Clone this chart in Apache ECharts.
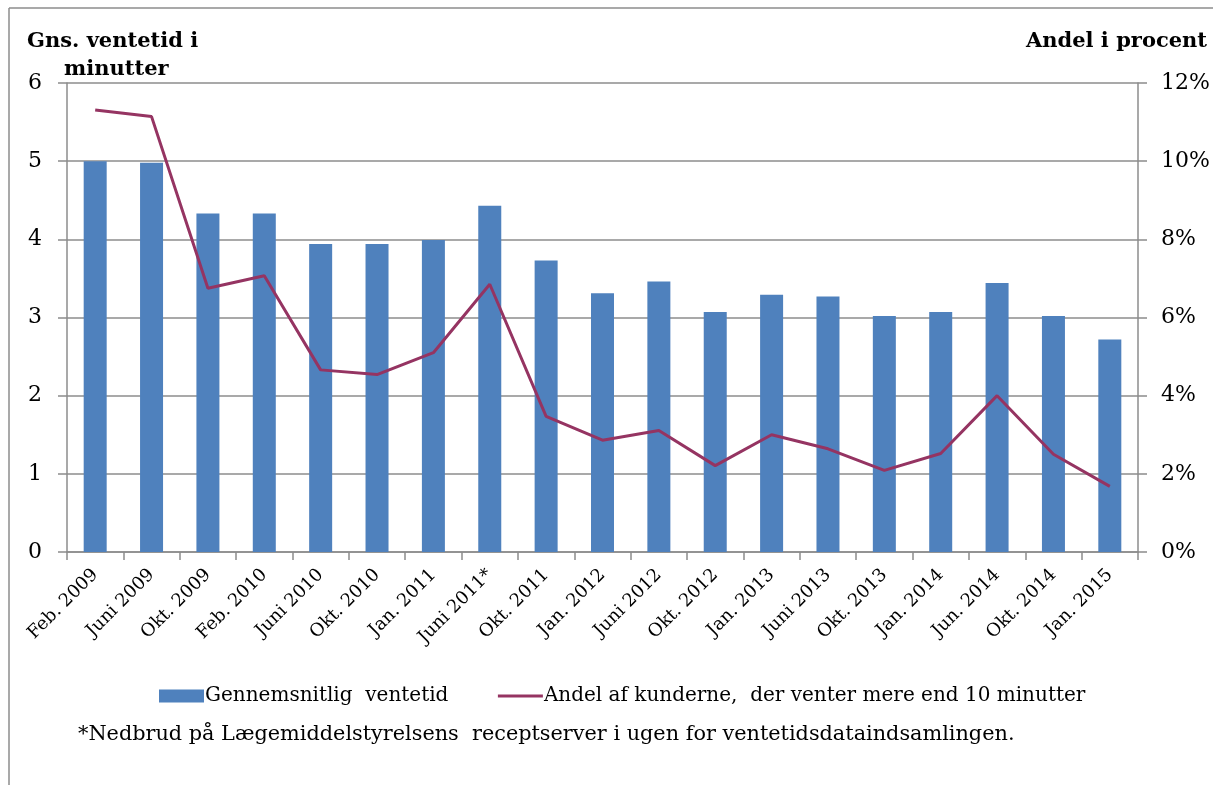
<!DOCTYPE html>
<html>
<head>
	<meta charset="utf-8">
	<title>Ventetid</title>
	<style>
		html, body { margin: 0; padding: 0; background: #fff; }
		#chart1 { width: 1213px; height: 785px; }
	</style>
</head>

<body>
	<div id="chart1"></div>

	<script src="https://cdn.jsdelivr.net/npm/echarts@6/dist/echarts.min.js"></script>
	<script>

	// kategorier og data
	var perioder = ['Feb. 2009', 'Juni 2009', 'Okt. 2009', 'Feb. 2010', 'Juni 2010', 'Okt. 2010',
		'Jan. 2011', 'Juni 2011*', 'Okt. 2011', 'Jan. 2012', 'Juni 2012', 'Okt. 2012', 'Jan. 2013',
		'Juni 2013', 'Okt. 2013', 'Jan. 2014', 'Jun. 2014', 'Okt. 2014', 'Jan. 2015'];
	var ventetid = [5.0, 4.98, 4.33, 4.33, 3.94, 3.94, 3.99, 4.43, 3.73, 3.31, 3.46, 3.07, 3.29,
		3.27, 3.02, 3.07, 3.44, 3.02, 2.72];
	var andel = [11.31, 11.14, 6.75, 7.07, 4.66, 4.54, 5.10, 6.85, 3.47, 2.86, 3.11, 2.21, 3.0,
		2.64, 2.09, 2.52, 4.0, 2.50, 1.68];
	var navne = ['Gennemsnitlig  ventetid', 'Andel af kunderne,  der venter mere end 10 minutter'];

	var font = '"DejaVu Serif", "Liberation Serif", serif';
	var grå = '#8c8c8c';
	var lilla = '#953462';

	var myChart = echarts.init(document.getElementById('chart1'));

	var fed = { fontFamily: font, fontSize: 21, fontWeight: 'bold', color: '#000' };

	var option = {
		backgroundColor: '#fff',
		textStyle: { fontFamily: font, color: '#000' },
		title: [
			{ text: 'Gns. ventetid i', left: 27, top: 31, padding: 0, textStyle: fed },
			{ text: 'minutter', left: 64, top: 59, padding: 0, textStyle: fed },
			{ text: 'Andel i procent', right: 6, top: 31, padding: 0, textStyle: fed },
			{ text: '*Nedbrud på Lægemiddelstyrelsens  receptserver i ugen for ventetidsdataindsamlingen.',
				left: 78, top: 724, padding: 0,
				textStyle: { fontFamily: font, fontSize: 20.8, fontWeight: 'normal', color: '#000' } }
		],
		graphic: [
			{ type: 'line', shape: { x1: 9, y1: 8, x2: 1213, y2: 8 }, style: { stroke: grå, lineWidth: 1.5 } },
			{ type: 'line', shape: { x1: 9, y1: 8, x2: 9, y2: 785 }, style: { stroke: grå, lineWidth: 1.5 } }
		],
		legend: {
			left: 154,
			top: 681,
			itemGap: 48,
			itemWidth: 45,
			itemHeight: 13,
			textStyle: { fontFamily: font, fontSize: 20, color: '#000', padding: [0, 0, 0, -4] },
			data: [
				{ name: navne[0], icon: 'rect' },
				{ name: navne[1], itemStyle: { opacity: 0 }, lineStyle: { color: lilla, width: 3 } }
			]
		},
		grid: { left: 67, right: 75, top: 83, bottom: 233 },
		xAxis: {
			type: 'category',
			data: perioder,
			axisLine: { lineStyle: { color: grå, width: 1.5 } },
			axisTick: { show: true, length: 8, lineStyle: { color: grå, width: 1.5 } },
			axisLabel: { rotate: 45, fontSize: 18, color: '#000', margin: 20, interval: 0 }
		},
		yAxis: [
			{
				type: 'value', min: 0, max: 6, interval: 1,
				axisLine: { show: true, lineStyle: { color: grå, width: 1.5 } },
				axisTick: { show: true, length: 9, lineStyle: { color: grå, width: 1.5 } },
				splitLine: { lineStyle: { color: grå, width: 1.5 } },
				axisLabel: { fontSize: 22, color: '#000', margin: 25 }
			},
			{
				type: 'value', min: 0, max: 12, interval: 2,
				axisLine: { show: true, lineStyle: { color: grå, width: 1.5 } },
				axisTick: { show: true, length: 9, lineStyle: { color: grå, width: 1.5 } },
				splitLine: { show: false },
				axisLabel: { fontSize: 22, color: '#000', margin: 23, formatter: '{value}%' }
			}
		],
		series: [
			{
				name: navne[0],
				type: 'bar',
				data: ventetid,
				barWidth: 23,
				itemStyle: { color: '#4f81bd' },
				animation: false
			},
			{
				name: navne[1],
				type: 'line',
				yAxisIndex: 1,
				data: andel,
				symbol: 'none',
				lineStyle: { color: lilla, width: 3 },
				itemStyle: { color: lilla },
				animation: false
			}
		]
	};

	myChart.setOption(option);

	</script>
</body>

</html>
